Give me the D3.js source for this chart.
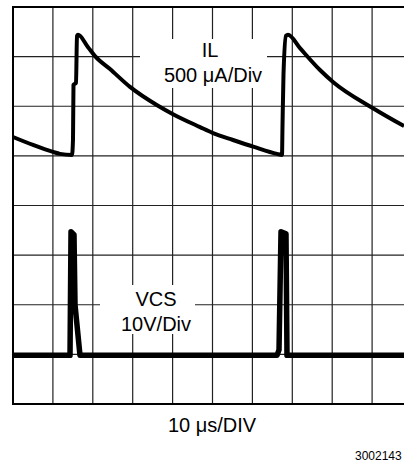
<!DOCTYPE html>
<html>
<head>
<meta charset="utf-8">
<script src="https://cdn.jsdelivr.net/npm/d3@7"></script>
<style>
  body { margin: 0; background: #fff; }
  text { font-family: "Liberation Sans", Arial, sans-serif; fill: #000; }
</style>
</head>
<body>
<div id="chart"></div>
<script>
// Scope screen: 10 time divisions (10 us/div), 8 vertical divisions
var w = 404;
var h = 463;
var xDivs = 10;
var yDivs = 8;

// IL trace: time (us) and screen position (divisions from bottom)
var ilTime = [0, 5.01, 10.03, 11.78, 14.79, 15.04, 15.16, 15.79, 16.04, 16.29,
  18.8, 20.55, 24.31, 29.32, 36.34, 40.1, 46.87, 50.13, 55.14, 60.4, 66.17,
  67.42, 67.54, 67.79, 68.42, 68.92, 71.93, 76.94, 80.2, 90.23, 98];
var ilDiv = [5.38, 5.22, 5.08, 5.04, 5.02, 5.34, 6.43, 6.47, 7.42, 7.44,
  7.19, 7.01, 6.75, 6.39, 6.01, 5.84, 5.58, 5.46, 5.32, 5.18, 5.04,
  5.02, 5.58, 6.63, 7.42, 7.44, 7.17, 6.73, 6.49, 5.96, 5.6];

// VCS trace
var vcsTime = [0, 14.29, 14.54, 15.29, 15.54, 16.79, 66.17, 66.67, 67.17, 68.42, 68.67, 98];
var vcsDiv = [0.98, 0.98, 3.47, 3.41, 2.0, 0.98, 0.98, 1.09, 3.47, 3.43, 0.98, 0.98];

var ilLabel = ["IL", "500 \u03bcA/Div"];
var vcsLabel = ["VCS", "10V/Div"];
var timeLabel = "10 \u03bcs/DIV";
var figId = "3002143";

function drawTrace(svg, times, divs, xScale, yScale, width, curve) {
  const pts = times.map((t, i) => ({ t: t, v: divs[i] }));
  const line = d3.line()
    .curve(curve)
    .x(d => xScale(d.t))
    .y(d => yScale(d.v));

  svg.append("path")
    .datum(pts)
    .attr("fill", "none")
    .attr("stroke", "#000")
    .attr("stroke-width", width)
    .attr("stroke-linejoin", "round")
    .attr("d", line);
}

// white box behind a label, hides the grid there
function addLabel(svg, lines, box, cx, baseline) {
  svg.append("rect")
    .attr("x", box[0])
    .attr("y", box[1])
    .attr("width", box[2] - box[0])
    .attr("height", box[3] - box[1])
    .attr("fill", "#fff");

  lines.forEach(function(txt, i) {
    svg.append("text")
      .attr("x", cx[i])
      .attr("y", baseline + i * 24.5)
      .attr("text-anchor", "middle")
      .attr("font-size", "20px")
      .text(txt);
  });
}

function main() {
  const xScale = d3.scaleLinear()
    .domain([0, xDivs * 10])
    .range([13, 412]);

  const yScale = d3.scaleLinear()
    .domain([0, yDivs])
    .range([404, 7]);

  const svg = d3.select("#chart")
    .append("svg")
    .attr("width", w)
    .attr("height", h);

  // grid
  svg.selectAll(".vgrid")
    .data(d3.range(1, xDivs))
    .enter()
    .append("line")
    .attr("x1", d => xScale(d * 10))
    .attr("x2", d => xScale(d * 10))
    .attr("y1", yScale(yDivs))
    .attr("y2", yScale(0))
    .attr("stroke", "#222")
    .attr("stroke-width", 1.2);

  svg.selectAll(".hgrid")
    .data(d3.range(1, yDivs))
    .enter()
    .append("line")
    .attr("x1", xScale(0))
    .attr("x2", xScale(xDivs * 10))
    .attr("y1", d => yScale(d))
    .attr("y2", d => yScale(d))
    .attr("stroke", "#222")
    .attr("stroke-width", 1.2);

  svg.append("rect")
    .attr("x", xScale(0))
    .attr("y", yScale(yDivs))
    .attr("width", xScale(xDivs * 10) - xScale(0))
    .attr("height", yScale(0) - yScale(yDivs))
    .attr("fill", "none")
    .attr("stroke", "#000")
    .attr("stroke-width", 2);

  addLabel(svg, ilLabel, [140, 39, 267, 88], [210, 213], 57);
  addLabel(svg, vcsLabel, [100, 285, 195, 334], [156, 156], 306);

  drawTrace(svg, ilTime, ilDiv, xScale, yScale, 4, d3.curveMonotoneX);
  drawTrace(svg, vcsTime, vcsDiv, xScale, yScale, 5.5, d3.curveLinear);

  svg.append("text")
    .attr("x", 212)
    .attr("y", 432)
    .attr("text-anchor", "middle")
    .attr("font-size", "20px")
    .text(timeLabel);

  svg.append("text")
    .attr("x", 355)
    .attr("y", 460)
    .attr("font-size", "12px")
    .text(figId);
}

window.onload = function() {
  main();
};
</script>
</body>
</html>
